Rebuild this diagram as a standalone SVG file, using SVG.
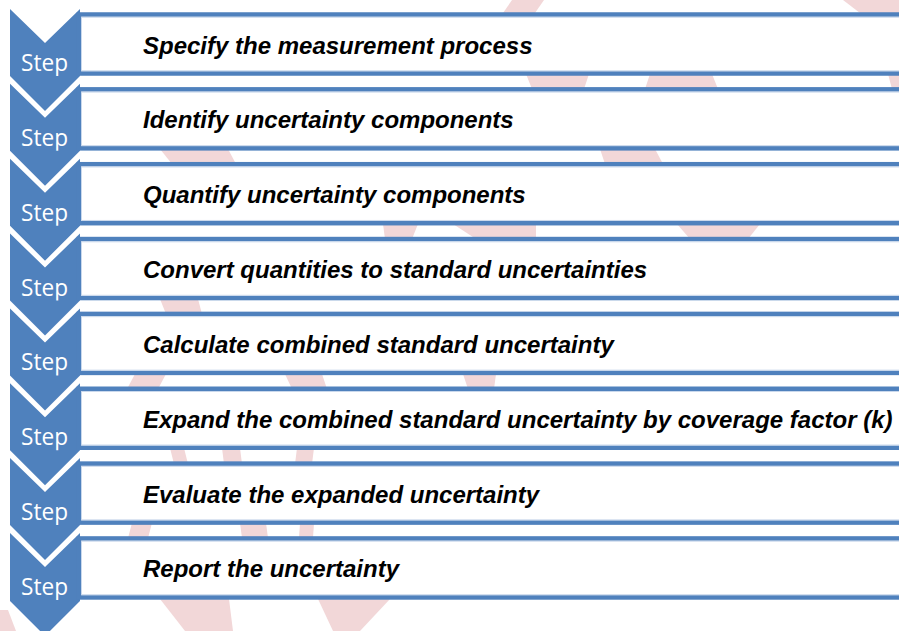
<svg xmlns="http://www.w3.org/2000/svg" width="899" height="631" viewBox="0 0 899 631">
<defs>
<style>
.wm{fill:#F2D7D8}
.chev{fill:#4F81BD}
.row{fill:#FFFFFF;stroke:#4F81BD;stroke-width:4.5}
.rowin{fill:none;stroke:#C9D8EC;stroke-width:1}
.step{fill:#FFFFFF;font-family:"Open Sans","Noto Sans",sans-serif;font-size:23px}
.lbl{fill:#000000;font-family:"Liberation Sans",Arial,sans-serif;font-size:24px;font-weight:bold;font-style:italic}
</style>
<clipPath id="stepclip" clipPathUnits="userSpaceOnUse"><rect x="10" y="0" width="70" height="76"/></clipPath>
</defs>
<rect x="0" y="0" width="899" height="631" fill="#FFFFFF"/>
<g id="watermark">
<polygon class="wm" points="512,0 544,0 535,13 503,13"/>
<polygon class="wm" points="843,0 899,0 899,13 860,13"/>
<polygon class="wm" points="526,74 589,74 584,89 532,89"/>
<polygon class="wm" points="650,74 712,74 718,89 645,89"/>
<polygon class="wm" points="888,74 899,74 899,89 892,89"/>
<polygon class="wm" points="160,149 228,149 236,164 172,164"/>
<polygon class="wm" points="600,149 655,149 663,164 605,164"/>
<polygon class="wm" points="383,224 418,224 412,239 385,239"/>
<polygon class="wm" points="453,224 536,224 536,239 476,239"/>
<polygon class="wm" points="677,224 760,224 748,239 690,239"/>
<polygon class="wm" points="160,299 198,299 202,314 166,314"/>
<polygon class="wm" points="135,374 166,374 158,389 127,389"/>
<polygon class="wm" points="285,374 322,374 327,389 292,389"/>
<polygon class="wm" points="463,374 496,374 494,389 468,389"/>
<polygon class="wm" points="170,448 184,448 188,464 174,464"/>
<polygon class="wm" points="222,448 240,448 242,464 224,464"/>
<polygon class="wm" points="297,448 314,448 312,464 295,464"/>
<polygon class="wm" points="132,523 152,523 148,538 128,538"/>
<polygon class="wm" points="240,523 266,523 268,538 242,538"/>
<polygon class="wm" points="300,523 314,523 313,538 299,538"/>
<polygon class="wm" points="0,610 8,610 16,631 0,631"/>
<polygon class="wm" points="160,599 229,599 233,631 185,631"/>
<polygon class="wm" points="318,599 390,599 360,631 333,631"/>
</g>
<g id="connectors"/>
<g id="step1">
<path class="chev" d="M10,9 L45,43 L80,9 L80,76 L45,111 L10,76 Z"/>
<text class="step" x="21" y="71" textLength="47" lengthAdjust="spacingAndGlyphs" clip-path="url(#stepclip)">Step</text>
<rect class="row" x="79" y="14.5" width="840" height="59"/>
<rect class="rowin" x="81.5" y="17.25" width="840" height="53.5"/>
<text class="lbl" x="143" y="53.5">Specify the measurement process</text>
</g>
<g id="step2" transform="translate(0,74.85)">
<path class="chev" d="M10,9 L45,43 L80,9 L80,76 L45,111 L10,76 Z"/>
<text class="step" x="21" y="71" textLength="47" lengthAdjust="spacingAndGlyphs" clip-path="url(#stepclip)">Step</text>
<rect class="row" x="79" y="14.5" width="840" height="59"/>
<rect class="rowin" x="81.5" y="17.25" width="840" height="53.5"/>
<text class="lbl" x="143" y="53.5">Identify uncertainty components</text>
</g>
<g id="step3" transform="translate(0,149.7)">
<path class="chev" d="M10,9 L45,43 L80,9 L80,76 L45,111 L10,76 Z"/>
<text class="step" x="21" y="71" textLength="47" lengthAdjust="spacingAndGlyphs" clip-path="url(#stepclip)">Step</text>
<rect class="row" x="79" y="14.5" width="840" height="59"/>
<rect class="rowin" x="81.5" y="17.25" width="840" height="53.5"/>
<text class="lbl" x="143" y="53.5">Quantify uncertainty components</text>
</g>
<g id="step4" transform="translate(0,224.55)">
<path class="chev" d="M10,9 L45,43 L80,9 L80,76 L45,111 L10,76 Z"/>
<text class="step" x="21" y="71" textLength="47" lengthAdjust="spacingAndGlyphs" clip-path="url(#stepclip)">Step</text>
<rect class="row" x="79" y="14.5" width="840" height="59"/>
<rect class="rowin" x="81.5" y="17.25" width="840" height="53.5"/>
<text class="lbl" x="143" y="53.5">Convert quantities to standard uncertainties</text>
</g>
<g id="step5" transform="translate(0,299.4)">
<path class="chev" d="M10,9 L45,43 L80,9 L80,76 L45,111 L10,76 Z"/>
<text class="step" x="21" y="71" textLength="47" lengthAdjust="spacingAndGlyphs" clip-path="url(#stepclip)">Step</text>
<rect class="row" x="79" y="14.5" width="840" height="59"/>
<rect class="rowin" x="81.5" y="17.25" width="840" height="53.5"/>
<text class="lbl" x="143" y="53.5">Calculate combined standard uncertainty</text>
</g>
<g id="step6" transform="translate(0,374.25)">
<path class="chev" d="M10,9 L45,43 L80,9 L80,76 L45,111 L10,76 Z"/>
<text class="step" x="21" y="71" textLength="47" lengthAdjust="spacingAndGlyphs" clip-path="url(#stepclip)">Step</text>
<rect class="row" x="79" y="14.5" width="840" height="59"/>
<rect class="rowin" x="81.5" y="17.25" width="840" height="53.5"/>
<text class="lbl" x="143" y="53.5">Expand the combined standard uncertainty by coverage factor (k)</text>
</g>
<g id="step7" transform="translate(0,449.1)">
<path class="chev" d="M10,9 L45,43 L80,9 L80,76 L45,111 L10,76 Z"/>
<text class="step" x="21" y="71" textLength="47" lengthAdjust="spacingAndGlyphs" clip-path="url(#stepclip)">Step</text>
<rect class="row" x="79" y="14.5" width="840" height="59"/>
<rect class="rowin" x="81.5" y="17.25" width="840" height="53.5"/>
<text class="lbl" x="143" y="53.5">Evaluate the expanded uncertainty</text>
</g>
<g id="step8" transform="translate(0,523.95)">
<path class="chev" d="M10,9 L45,43 L80,9 L80,77 L45,112 L10,77 Z"/>
<text class="step" x="21" y="71" textLength="47" lengthAdjust="spacingAndGlyphs" clip-path="url(#stepclip)">Step</text>
<rect class="row" x="79" y="14.5" width="840" height="59"/>
<rect class="rowin" x="81.5" y="17.25" width="840" height="53.5"/>
<text class="lbl" x="143" y="53.5">Report the uncertainty</text>
</g>
</svg>
